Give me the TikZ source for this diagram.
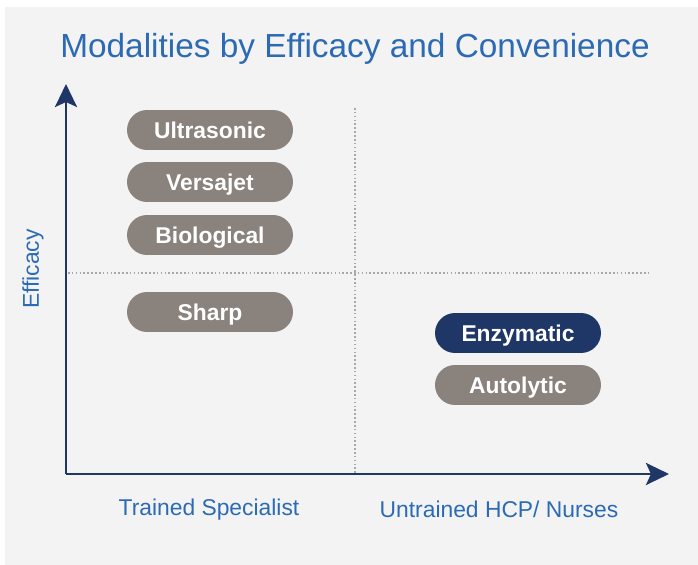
\documentclass[tikz,border=0pt]{standalone}
\usepackage{fontspec}
\setmainfont{Liberation Sans}
\usetikzlibrary{arrows.meta}
\definecolor{panel}{HTML}{F3F3F3}
\definecolor{navy}{HTML}{1F3767}
\definecolor{titleblue}{HTML}{2C6BB4}
\definecolor{pillgray}{HTML}{8A827D}
\definecolor{dotgray}{HTML}{A8A8A8}
\begin{document}
\begin{tikzpicture}[x=0.02cm, y=-0.02cm,
  every node/.style={font=\fontsize{13}{15}\selectfont, text=titleblue},
  pill/.style={rectangle, rounded corners=0.4cm, fill=pillgray, minimum width=3.32cm, minimum height=0.8cm, text height=9.3pt, text depth=0pt, text=white, font=\fontsize{13}{15}\selectfont\bfseries},
  axis/.style={navy, line width=1.7pt, -{Stealth[length=0.46cm, width=0.44cm, inset=0.1cm]}},
  grid/.style={dotgray, line width=1.2pt, dash pattern=on 0.9pt off 1.3pt}]
\useasboundingbox (0,0) rectangle (698,565);
\fill[panel] (5,7) rectangle (698,565);

\node (title) at (355,49) {\fontsize{19}{22}\selectfont Modalities by Efficacy and Convenience};

\coordinate (o) at (66,474);
\coordinate (ytop) at (66,84);
\coordinate (xend) at (669,474);
\coordinate (vtop) at (355,108);
\coordinate (vbot) at (355,474);
\coordinate (hl) at (68,273);
\coordinate (hr) at (648,273);

\draw[grid] (vtop)--(vbot);
\draw[grid] (hl)--(hr);
\draw[axis] (o)--(ytop);
\draw[axis] (o)--(xend);

\node[rotate=90] (eff) at (33,269) {Efficacy};
\node (trained) at (209,510) {Trained Specialist};
\node (untrained) at (499,509) {Untrained HCP/ Nurses};

\begin{scope}
\node[pill] (ultra) at (210,130) {Ultrasonic};
\node[pill] (versa) at (210,182) {Versajet};
\node[pill] (bio) at (210,235) {Biological};
\node[pill] (sharp) at (210,312) {Sharp};
\end{scope}

\begin{scope}
\node[pill, fill=navy] (enzy) at (518,333) {Enzymatic};
\node[pill] (auto) at (518,385) {Autolytic};
\end{scope}
\end{tikzpicture}
\end{document}
